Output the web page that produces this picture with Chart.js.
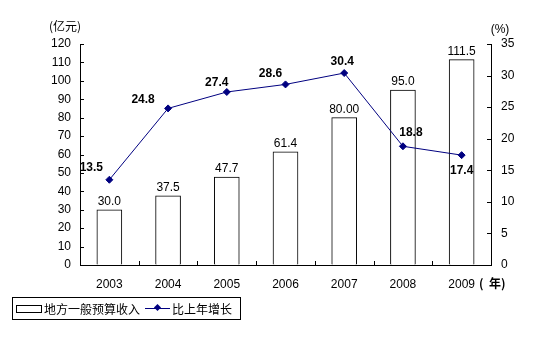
<!DOCTYPE html>
<html lang="zh">
<head>
    <meta charset="UTF-8">
    <title>地方一般预算收入</title>
    <script src="https://cdn.jsdelivr.net/npm/chart.js"></script>
    <style>
        body { margin: 0; background: #fff; }
        #wrap { position: relative; width: 554px; height: 343px; }
        #legend {
            position: absolute; left: 12px; top: 297px; width: 227px; height: 21px;
            border: 1px solid #000; display: flex; align-items: center; white-space: nowrap;
            font-family: 'Noto Sans CJK SC', sans-serif; font-size: 12px; line-height: 14px; color: #000;
        }
        .barIcon { display: inline-block; width: 24px; height: 6px; border: 1px solid #000; margin: 0 2px 0 3px; }
        .lineIcon { position: relative; display: inline-block; width: 25px; height: 1px; background: #000080; margin: 0 2px 0 5px; }
        .lineIcon::after { content: ''; position: absolute; left: 10px; top: -3px; width: 5px; height: 5px; background: #000080; transform: rotate(45deg); }
    </style>
</head>
<body>
<div id="wrap">
    <canvas id="c" width="554" height="343"></canvas>
    <div id="legend">
        <span class="barIcon"></span><span>地方一般预算收入</span>
        <span class="lineIcon"></span><span>比上年增长</span>
    </div>
</div>
<script>
const years = ['2003', '2004', '2005', '2006', '2007', '2008', '2009'];
const revenue = [30.0, 37.5, 47.7, 61.4, 80.0, 95.0, 111.5];
const revenueLabels = ['30.0', '37.5', '47.7', '61.4', '80.00', '95.0', '111.5'];
const growth = [13.5, 24.8, 27.4, 28.6, 30.4, 18.8, 17.4];
const growthLabels = ['13.5', '24.8', '27.4', '28.6', '30.4', '18.8', '17.4'];
// where each growth label sits relative to its point
const growthOffsets = [[-18, -12], [-25, -9], [-10, -9], [-15, -11], [-2, -11], [8, -14], [0, 16]];

const numFont = '"Liberation Sans", Arial, sans-serif';

const extras = {
    id: 'extras',
    afterDraw(chart) {
        const ctx = chart.ctx;
        const area = chart.chartArea;
        const x = chart.scales.x, y = chart.scales.y, y1 = chart.scales.y1;
        ctx.save();
        ctx.strokeStyle = '#000';
        ctx.lineWidth = 1;
        // inside tick marks
        ctx.beginPath();
        y.ticks.forEach(t => {
            const py = Math.round(y.getPixelForValue(t.value)) + 0.5;
            ctx.moveTo(area.left, py); ctx.lineTo(area.left + 4, py);
        });
        y1.ticks.forEach(t => {
            const py = Math.round(y1.getPixelForValue(t.value)) + 0.5;
            ctx.moveTo(area.right - 4, py); ctx.lineTo(area.right, py);
        });
        for (let i = 1; i < years.length; i++) {
            const px = Math.round((x.getPixelForValue(i - 1) + x.getPixelForValue(i)) / 2) + 0.5;
            ctx.moveTo(px, area.bottom); ctx.lineTo(px, area.bottom - 4);
        }
        ctx.stroke();

        // bar value labels
        ctx.fillStyle = '#000';
        ctx.textAlign = 'center';
        ctx.textBaseline = 'alphabetic';
        ctx.font = '12px ' + numFont;
        chart.getDatasetMeta(0).data.forEach((bar, i) => {
            ctx.fillText(revenueLabels[i], bar.x, bar.y - 5);
        });

        // growth labels
        ctx.font = 'bold 12px ' + numFont;
        ctx.textBaseline = 'middle';
        chart.getDatasetMeta(1).data.forEach((pt, i) => {
            const o = growthOffsets[i];
            ctx.fillText(growthLabels[i], pt.x + o[0], pt.y + o[1]);
        });

        // unit labels
        ctx.font = '12px "Noto Sans CJK SC", sans-serif';
        ctx.fillText('(亿元)', 65, 26);
        ctx.font = '12px ' + numFont;
        ctx.fillText('(%)', 500, 30);
        ctx.textAlign = 'left';
        ctx.font = 'bold 12px "Noto Sans CJK SC", sans-serif';
        ctx.fillText('(  年)', 479, 283);
        ctx.restore();
    }
};

new Chart(document.getElementById('c'), {
    type: 'bar',
    data: {
        labels: years,
        datasets: [
            {
                type: 'bar',
                label: '地方一般预算收入',
                data: revenue,
                backgroundColor: '#fff',
                borderColor: '#000',
                borderWidth: 1,
                barThickness: 25,
                yAxisID: 'y',
                order: 2
            },
            {
                type: 'line',
                label: '比上年增长',
                data: growth,
                borderColor: '#000080',
                backgroundColor: '#000080',
                borderWidth: 1,
                pointStyle: 'rectRot',
                pointRadius: 3.5,
                pointHoverRadius: 3.5,
                yAxisID: 'y1',
                order: 1
            }
        ]
    },
    options: {
        responsive: false,
        animation: false,
        layout: { padding: { top: 44, left: 0, right: 0, bottom: 0 } },
        plugins: { legend: { display: false }, tooltip: { enabled: false } },
        scales: {
            x: {
                grid: { drawOnChartArea: false, drawTicks: false },
                border: { color: '#000', width: 1 },
                ticks: { color: '#000', padding: 12, font: { family: numFont, size: 12 } },
                afterFit: s => { s.height = 78; }
            },
            y: {
                position: 'left',
                min: 0, max: 120,
                grid: { drawOnChartArea: false, drawTicks: false },
                border: { color: '#000', width: 1 },
                ticks: { stepSize: 10, color: '#000', padding: 9, font: { family: numFont, size: 12 } },
                afterFit: s => { s.width = 80; }
            },
            y1: {
                position: 'right',
                min: 0, max: 35,
                grid: { drawOnChartArea: false, drawTicks: false },
                border: { color: '#000', width: 1 },
                ticks: { stepSize: 5, color: '#000', padding: 10, font: { family: numFont, size: 12 } },
                afterFit: s => { s.width = 63; }
            }
        }
    },
    plugins: [extras]
});
</script>
</body>
</html>
